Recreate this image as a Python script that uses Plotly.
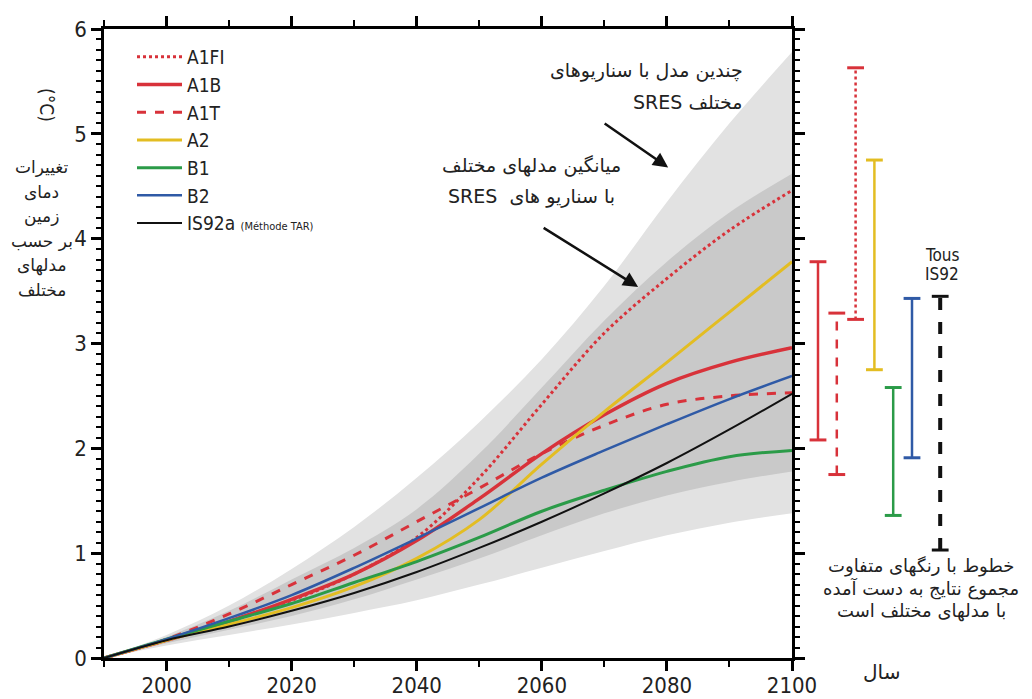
import plotly.graph_objects as go

# ---- projected global mean temperature change (°C), relative to 1990 ----
years = [1990, 2000, 2010, 2020, 2030, 2040, 2050, 2060, 2070, 2080, 2090, 2100]

a1fi = [0, 0.17, 0.35, 0.55, 0.80, 1.15, 1.72, 2.42, 3.10, 3.62, 4.08, 4.46]
a1b = [0, 0.17, 0.35, 0.56, 0.80, 1.12, 1.52, 1.95, 2.32, 2.62, 2.82, 2.96]
a1t = [0, 0.18, 0.42, 0.70, 0.98, 1.30, 1.62, 1.95, 2.22, 2.42, 2.50, 2.53]
a2 = [0, 0.17, 0.32, 0.48, 0.68, 0.95, 1.32, 1.85, 2.35, 2.82, 3.30, 3.78]
b1 = [0, 0.18, 0.35, 0.52, 0.72, 0.92, 1.15, 1.40, 1.60, 1.78, 1.92, 1.98]
b2 = [0, 0.18, 0.38, 0.60, 0.86, 1.14, 1.43, 1.72, 1.98, 2.23, 2.47, 2.69]
is92a = [0, 0.17, 0.30, 0.45, 0.62, 0.82, 1.05, 1.30, 1.57, 1.86, 2.18, 2.52]

# envelopes: several models / all SRES (light) and model ensemble / all SRES (dark)
outer_hi = [0, 0.22, 0.50, 0.85, 1.25, 1.72, 2.25, 2.85, 3.55, 4.35, 5.10, 5.78]
outer_lo = [0, 0.12, 0.22, 0.32, 0.43, 0.55, 0.70, 0.86, 1.02, 1.17, 1.29, 1.38]
inner_hi = [0, 0.20, 0.45, 0.75, 1.05, 1.42, 1.95, 2.58, 3.22, 3.78, 4.25, 4.62]
inner_lo = [0, 0.14, 0.27, 0.40, 0.56, 0.75, 0.95, 1.17, 1.38, 1.55, 1.68, 1.78]

# ranges in 2100 for each scenario group
range_names = ["A1B", "A1T", "A1FI", "A2", "B1", "B2", "IS92"]
range_lo = [2.08, 1.75, 3.23, 2.75, 1.36, 1.91, 1.03]
range_hi = [3.78, 3.29, 5.63, 4.75, 2.58, 3.43, 3.45]

x_ticks = [2000, 2020, 2040, 2060, 2080, 2100]
y_ticks = [0, 1, 2, 3, 4, 5, 6]

# ---- styling ----
RED = "#d8323a"
YELLOW = "#e3bd22"
GREEN = "#2b9b48"
BLUE = "#2f5aa6"
BLACK = "#111111"
LIGHT = "#e2e2e2"
DARK = "#c9c9c9"

NARROW = "DejaVu Sans Condensed, Liberation Sans Narrow, Liberation Sans, Arial, sans-serif"
FA = "DejaVu Sans, Noto Sans, sans-serif"

series = [
    ("A1FI", a1fi, RED, "dot", 3),
    ("A1B", a1b, RED, "solid", 3.5),
    ("A1T", a1t, RED, "dash", 3),
    ("A2", a2, YELLOW, "solid", 3),
    ("B1", b1, GREEN, "solid", 3),
    ("B2", b2, BLUE, "solid", 2.5),
    ("IS92a <span style='font-size:11px'>(Méthode TAR)</span>", is92a, BLACK, "solid", 2),
]
range_style = {
    "A1B": (RED, "solid"),
    "A1T": (RED, "dash"),
    "A1FI": (RED, "dot"),
    "A2": (YELLOW, "solid"),
    "B1": (GREEN, "solid"),
    "B2": (BLUE, "solid"),
    "IS92": (BLACK, "dash"),
}
range_slot = [0, 1, 2, 3, 4, 5, 6.5]

# figure geometry (pixels)
W, H = 1032, 699
ML, MR, MT, MB = 104, 2, 29, 41
PW, PH = W - ML - MR, H - MT - MB
MAIN_RIGHT = 792
BARS_LEFT, BARS_RIGHT = 800, 960


def fx(px):
    return (px - ML) / PW


def fy(py):
    return (H - MB - py) / PH


fig = go.Figure()

# shaded envelopes
for lo, hi, col in [(outer_lo, outer_hi, LIGHT), (inner_lo, inner_hi, DARK)]:
    fig.add_trace(go.Scatter(x=years, y=lo, mode="lines", line=dict(width=0, shape="spline"),
                             showlegend=False, hoverinfo="skip"))
    fig.add_trace(go.Scatter(x=years, y=hi, mode="lines", line=dict(width=0, shape="spline"),
                             fill="tonexty", fillcolor=col, showlegend=False, hoverinfo="skip"))

# scenario curves
for name, vals, col, dash, w in series:
    fig.add_trace(go.Scatter(x=years, y=vals, mode="lines", name=name,
                             line=dict(color=col, dash=dash, width=w, shape="spline")))

# 2100 range bars on their own axes to the right of the plot
for name, slot, lo, hi in zip(range_names, range_slot, range_lo, range_hi):
    col, dash = range_style[name]
    wid = 4 if name == "IS92" else 2.5
    fig.add_trace(go.Scatter(x=[slot, slot], y=[lo, hi], mode="lines+markers",
                             xaxis="x2", yaxis="y2", showlegend=False,
                             line=dict(color=col, dash=dash, width=wid),
                             marker=dict(symbol="line-ew", size=12,
                                         line=dict(color=col, width=3))))

axis_common = dict(showgrid=False, zeroline=False, showline=True, linecolor="black",
                   linewidth=2.5, ticks="outside", tickcolor="black", tickwidth=2.5,
                   ticklen=10, mirror="ticks", automargin=False,
                   tickfont=dict(family=NARROW, size=22, color="#222"))

slot_px = (912 - 818) / 5.0
x2_lo = range_slot[0] - (818 - BARS_LEFT) / slot_px
x2_hi = range_slot[5] + (BARS_RIGHT - 912) / slot_px

fig.update_layout(
    width=W, height=H, autosize=False,
    margin=dict(l=ML, r=MR, t=MT, b=MB, autoexpand=False),
    plot_bgcolor="white", paper_bgcolor="white",
    showlegend=True,
    xaxis=dict(axis_common, domain=[0, fx(MAIN_RIGHT)], range=[1990, 2100],
               tickvals=x_ticks, ticklabelstandoff=-4,
               minor=dict(dtick=10, tick0=1990, ticks="outside", ticklen=6,
                          tickwidth=2, tickcolor="black")),
    yaxis=dict(axis_common, range=[0, 6], tickvals=y_ticks,
               minor=dict(dtick=0.1, ticks="outside", ticklen=5, tickwidth=1.5,
                          tickcolor="black")),
    xaxis2=dict(domain=[fx(BARS_LEFT), fx(BARS_RIGHT)], range=[x2_lo, x2_hi],
                visible=False, anchor="y2", automargin=False),
    yaxis2=dict(domain=[0, 1], range=[0, 6], visible=False, anchor="x2", automargin=False),
    legend=dict(x=fx(132), y=fy(38), xanchor="left", yanchor="top", traceorder="normal",
                bgcolor="rgba(0,0,0,0)", font=dict(family=NARROW, size=19, color="#222"),
                itemwidth=45, tracegroupgap=0),
)

ann = []


def text(px, py, s, size, family=FA, anchor="center", angle=0):
    ann.append(dict(x=fx(px), y=fy(py), xref="paper", yref="paper", text=s,
                    showarrow=False, xanchor=anchor, yanchor="middle",
                    textangle=angle, font=dict(family=family, size=size, color="#222")))


# y-axis title
text(47, 105, "(°C)", 19, family=NARROW, angle=90)
ylab = ["تغییرات", "دمای", "زمین", "بر حسب", "مدلهای", "مختلف"]
for i, s in enumerate(ylab):
    text(42, 167 + 24.6 * i, s, 17)

# envelope descriptions
text(745, 70, "چندین مدل با سناریوهای", 19, anchor="right")
text(745, 102, "SRES مختلف", 19, anchor="right")
text(531, 165, "میانگین مدلهای مختلف", 19)
text(531, 196, "SRES  با سناریو های", 19)

# range bar captions
text(942, 255, "Tous", 17, family=NARROW)
text(942, 274, "IS92", 17, family=NARROW)
for i, s in enumerate(["خطوط با رنگهای متفاوت", "مجموع نتایج به دست آمده", "با مدلهای مختلف است"]):
    text(921, 566 + 22.5 * i, s, 18)
text(881, 672, "سال", 20)

# arrows pointing at the envelopes
for hx, hy, ax, ay in [(2080.2, 4.68, -65, -45), (2075.4, 3.54, -96, -60)]:
    ann.append(dict(x=hx, y=hy, xref="x", yref="y", ax=ax, ay=ay, text="",
                    showarrow=True, arrowhead=2, arrowsize=1.2, arrowwidth=2.5,
                    arrowcolor="#111"))

fig.update_layout(annotations=ann)
fig.write_html("out.html")
